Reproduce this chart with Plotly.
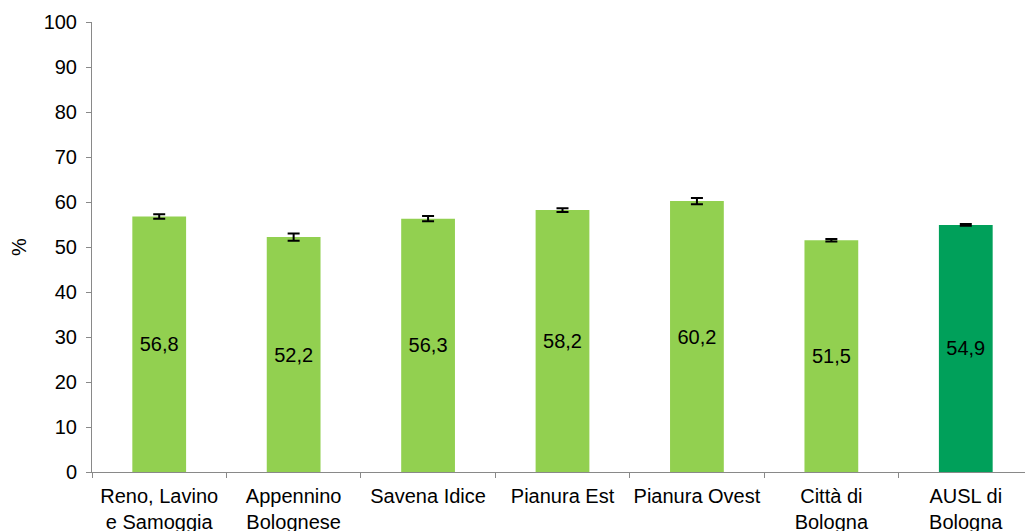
import plotly.graph_objects as go

categories = ["Reno, Lavino<br>e Samoggia", "Appennino<br>Bolognese", "Savena Idice",
              "Pianura Est", "Pianura Ovest", "Città di<br>Bologna", "AUSL di<br>Bologna"]
values = [56.8, 52.2, 56.3, 58.2, 60.2, 51.5, 54.9]
err_hi = [0.5, 0.8, 0.6, 0.4, 0.7, 0.3, 0.2]
err_lo = [0.5, 0.8, 0.6, 0.4, 0.7, 0.3, 0.2]

colors = ["#92D050"] * 6 + ["#00A05A"]

fig = go.Figure()
fig.add_trace(go.Bar(
    x=categories, y=values,
    marker=dict(color=colors, line=dict(width=0)),
    width=0.4,
    error_y=dict(type="data", array=err_hi, arrayminus=err_lo, symmetric=False,
                 color="black", thickness=2, width=6),
    texttemplate="%{y:.1f}",
    textposition="inside",
    insidetextanchor="middle",
    constraintext="none",
    textfont=dict(size=20, color="black", family="Liberation Sans, Arial"),
    showlegend=False,
))

# page body adds an 8px offset, so the figure is a bit smaller than the window
fig.update_layout(
    width=1025, height=523,
    margin=dict(l=84, r=0, t=14, b=59),
    paper_bgcolor="white", plot_bgcolor="white",
    separators=",.",
    font=dict(family="Liberation Sans, Arial", size=20, color="black"),
)
fig.update_xaxes(
    showline=True, linecolor="#898989", linewidth=1, automargin=False,
    ticks="outside", tickson="boundaries", ticklen=5, tickcolor="#898989",
    showgrid=False, tickfont=dict(size=20), tickangle=0, ticklabelstandoff=6,
)
fig.update_yaxes(
    range=[0, 100], dtick=10, showline=True, linecolor="#898989", linewidth=1,
    ticks="outside", ticklen=5, tickcolor="#898989", showgrid=False, zeroline=False,
    automargin=False, ticklabelstandoff=5,
    title=dict(text="%", standoff=12, font=dict(size=20)), tickfont=dict(size=20),
)

fig.write_html("out.html")
